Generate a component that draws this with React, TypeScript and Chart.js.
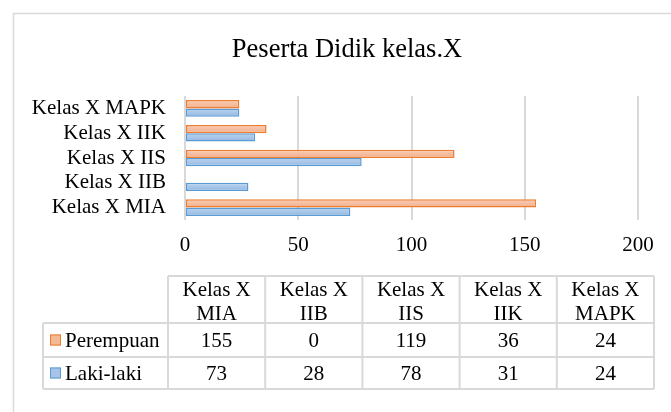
import React, { useEffect, useRef } from 'react';
import { Chart, registerables } from 'chart.js';

Chart.register(...registerables);

// ---- data ----
const TITLE = 'Peserta Didik kelas.X';
const categories = ['Kelas X MIA', 'Kelas X IIB', 'Kelas X IIS', 'Kelas X IIK', 'Kelas X MAPK'];
const seriesNames = ['Perempuan', 'Laki-laki'];
const perempuan = [155, 0, 119, 36, 24];
const lakiLaki = [73, 28, 78, 31, 24];
const xMin = 0;
const xMax = 200;
const xStep = 50;

// ---- style ----
const FONT = "'Liberation Serif', 'Times New Roman', serif";
const GRID = '#d9d9d9';
const TEXT = '#000000';
const ORANGE = { border: '#ED7D31', top: '#F9CEB8', bottom: '#F3AD8A', key: '#F5B996' };
const BLUE = { border: '#5B9BD5', top: '#BDD4EE', bottom: '#92B8E2', key: '#A6C4E8' };
const palettes = [ORANGE, BLUE];
const CAT_PCT = 0.67;

function makeFill(p: any) {
  return (c: any) => {
    const chart = c.chart;
    const y = chart.scales && chart.scales.y;
    if (c.type !== 'data' || !y || !chart.chartArea) return p.key;
    const center = y.getPixelForValue(c.dataIndex);
    const cat = y.height / categories.length;
    const bar = (cat * CAT_PCT) / 2;
    const top = center - bar + c.datasetIndex * bar;
    const g = chart.ctx.createLinearGradient(0, top, 0, top + bar);
    g.addColorStop(0, p.top);
    g.addColorStop(1, p.bottom);
    return g;
  };
}

const extrasPlugin = {
  id: 'extras',
  afterDraw(chart: any) {
    const ctx = chart.ctx as CanvasRenderingContext2D;
    ctx.save();
    // outer chart frame
    ctx.strokeStyle = GRID;
    ctx.lineWidth = 1.5;
    ctx.beginPath();
    ctx.moveTo(13.5, 412);
    ctx.lineTo(13.5, 13.5);
    ctx.lineTo(671, 13.5);
    ctx.stroke();

    // title
    ctx.fillStyle = TEXT;
    ctx.font = `26.5px ${FONT}`;
    ctx.textAlign = 'center';
    ctx.textBaseline = 'alphabetic';
    ctx.fillText(TITLE, 347, 56.5);

    // data table
    const left = 43;
    const firstCol = 168;
    const right = 654;
    const colW = (right - firstCol) / categories.length;
    const top = 276;
    const rowLines = [323, 357, 389];
    ctx.strokeStyle = GRID;
    ctx.lineWidth = 2;
    ctx.beginPath();
    ctx.moveTo(firstCol, top);
    ctx.lineTo(right, top);
    for (const yy of rowLines) {
      ctx.moveTo(left, yy);
      ctx.lineTo(right, yy);
    }
    ctx.moveTo(left, rowLines[0]);
    ctx.lineTo(left, rowLines[2]);
    for (let i = 0; i <= categories.length; i++) {
      const xx = firstCol + i * colW;
      ctx.moveTo(xx, top);
      ctx.lineTo(xx, rowLines[2]);
    }
    ctx.stroke();

    ctx.fillStyle = TEXT;
    ctx.font = `21px ${FONT}`;
    ctx.textAlign = 'center';
    categories.forEach((label, i) => {
      const cx = firstCol + (i + 0.5) * colW;
      const k = label.lastIndexOf(' ');
      ctx.fillText(label.slice(0, k), cx, 295.5);
      ctx.fillText(label.slice(k + 1), cx, 320);
    });
    const series = [perempuan, lakiLaki];
    series.forEach((vals, r) => {
      const center = (rowLines[r] + rowLines[r + 1]) / 2;
      ctx.textAlign = 'center';
      ctx.fillStyle = TEXT;
      vals.forEach((v, i) => {
        const cx = firstCol + (i + 0.5) * colW;
        ctx.fillText(String(v), cx, center + 7.3);
      });
      // legend key
      const p = palettes[r];
      ctx.fillStyle = p.key;
      ctx.fillRect(50, center - 5.5, 11, 11);
      ctx.strokeStyle = p.border;
      ctx.lineWidth = 1;
      ctx.strokeRect(50.5, center - 5, 10, 10);
      ctx.fillStyle = TEXT;
      ctx.textAlign = 'left';
      ctx.fillText(seriesNames[r], 65, center + 7.3);
    });
    ctx.restore();
  },
};

export default function App() {
  const ref = useRef<HTMLCanvasElement | null>(null);
  useEffect(() => {
    if (!ref.current) return;
    const chart = new Chart(ref.current, {
      type: 'bar',
      data: {
        labels: categories,
        datasets: [
          {
            label: seriesNames[0],
            data: perempuan,
            backgroundColor: makeFill(ORANGE),
            borderColor: ORANGE.border,
            borderWidth: 1.5,
            borderSkipped: false,
            barPercentage: 1,
            categoryPercentage: CAT_PCT,
          },
          {
            label: seriesNames[1],
            data: lakiLaki,
            backgroundColor: makeFill(BLUE),
            borderColor: BLUE.border,
            borderWidth: 1.5,
            borderSkipped: false,
            barPercentage: 1,
            categoryPercentage: CAT_PCT,
          },
        ],
      },
      options: {
        indexAxis: 'y',
        responsive: false,
        animation: false,
        devicePixelRatio: 1,
        layout: { padding: { left: 13, right: 33, top: 96, bottom: 142 } },
        plugins: {
          legend: { display: false },
          title: { display: false },
          tooltip: { enabled: false },
        },
        scales: {
          x: {
            min: xMin,
            max: xMax,
            grid: { color: GRID, lineWidth: 2, drawTicks: false },
            border: { display: false },
            ticks: {
              stepSize: xStep,
              color: TEXT,
              font: { family: FONT, size: 21 },
              padding: 12.4,
              autoSkip: false,
              maxRotation: 0,
            },
            afterFit: (s: any) => {
              s.height = 50;
            },
          },
          y: {
            reverse: true,
            grid: { display: false, drawTicks: false },
            border: { display: false },
            ticks: {
              color: TEXT,
              font: { family: FONT, size: 21 },
              padding: 19,
              autoSkip: false,
            },
            afterFit: (s: any) => {
              s.width = 172;
            },
          },
        },
      },
      plugins: [extrasPlugin],
    } as any);
    return () => chart.destroy();
  }, []);
  return (
    <div style={{ position: 'fixed', left: 0, top: 0, width: 671, height: 412, background: '#fff' }}>
      <canvas ref={ref} width={671} height={412} style={{ display: 'block' }} />
    </div>
  );
}
